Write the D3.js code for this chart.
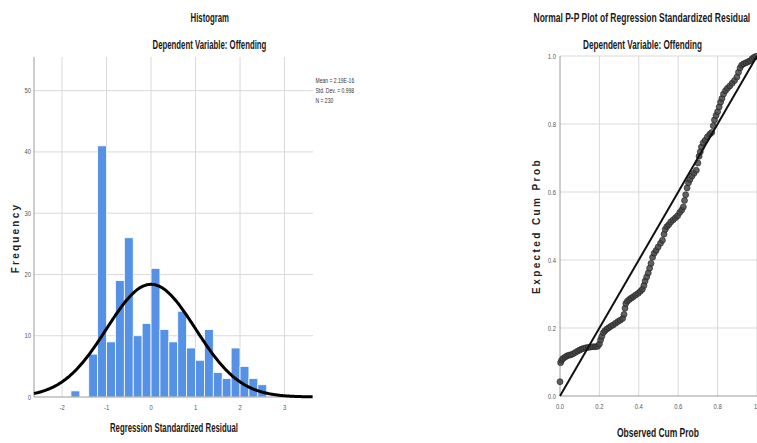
<!DOCTYPE html>
<html>
<head>
<meta charset="utf-8">
<script src="https://cdn.jsdelivr.net/npm/d3@7"></script>
<style>
  html, body { margin: 0; padding: 0; background: #fff; }
  svg { display: block; }
  text { font-family: "Liberation Sans", Arial, "DejaVu Sans", sans-serif; }
</style>
</head>
<body>
<svg id="chart" width="757" height="443"></svg>
<script>
// ---------- Data ----------
// Histogram: bins of width 0.2 (start values) and their counts
const binStarts = [-1.8, -1.6, -1.4, -1.2, -1.0, -0.8, -0.6, -0.4, -0.2, 0.0, 0.2, 0.4, 0.6, 0.8, 1.0, 1.2, 1.4, 1.6, 1.8, 2.0, 2.2, 2.4];
const binCounts = [1, 0, 7, 41, 9, 19, 26, 10, 12, 21, 11, 9, 14, 8, 6, 11, 4, 3, 8, 5, 3, 2];
const binWidth = 0.2;
const histXTicks = [-2, -1, 0, 1, 2, 3];
const histYTicks = [0, 10, 20, 30, 40, 50];
const meanVal = 2.19e-16;
const sdVal = 0.998;
const nVal = 230;
const legendLines = ["Mean = 2.19E-16", "Std. Dev. = 0.998", "N = 230"];

// P-P plot: observed cum prob vs expected cum prob
const ppObserved = [0.000,0.003,0.008,0.015,0.025,0.035,0.045,0.055,0.066,0.078,0.090,0.100,0.110,0.120,0.132,0.144,0.156,0.168,0.180,0.191,0.200,0.206,0.212,0.220,0.228,0.238,0.248,0.258,0.270,0.282,0.294,0.306,0.318,0.325,0.330,0.334,0.342,0.352,0.362,0.372,0.384,0.397,0.408,0.418,0.426,0.432,0.440,0.448,0.455,0.462,0.470,0.478,0.488,0.498,0.510,0.520,0.528,0.534,0.542,0.552,0.562,0.574,0.586,0.597,0.608,0.618,0.626,0.632,0.638,0.645,0.652,0.660,0.670,0.680,0.692,0.700,0.706,0.712,0.718,0.727,0.737,0.748,0.760,0.770,0.778,0.784,0.792,0.800,0.808,0.815,0.822,0.830,0.840,0.850,0.862,0.874,0.886,0.898,0.906,0.914,0.922,0.932,0.944,0.955,0.965,0.975,0.985,0.995];
const ppExpected = [0.042,0.098,0.105,0.110,0.114,0.118,0.120,0.121,0.124,0.128,0.132,0.135,0.138,0.140,0.142,0.143,0.144,0.145,0.145,0.146,0.153,0.165,0.175,0.186,0.192,0.197,0.201,0.205,0.209,0.214,0.219,0.223,0.228,0.240,0.258,0.272,0.279,0.284,0.288,0.292,0.297,0.302,0.308,0.314,0.325,0.338,0.350,0.362,0.376,0.390,0.408,0.420,0.428,0.438,0.449,0.458,0.476,0.490,0.498,0.504,0.512,0.518,0.524,0.530,0.540,0.547,0.556,0.575,0.592,0.612,0.627,0.637,0.647,0.655,0.664,0.685,0.705,0.718,0.732,0.745,0.752,0.762,0.770,0.775,0.795,0.812,0.825,0.836,0.850,0.864,0.875,0.888,0.898,0.905,0.912,0.920,0.928,0.938,0.952,0.965,0.973,0.977,0.980,0.983,0.986,0.992,0.996,0.999];
const ppTicks = [0.0, 0.2, 0.4, 0.6, 0.8, 1.0];

// ---------- Drawing ----------
const svg = d3.select("#chart");
const gridColor = "#d9d9d9";
const axisColor = "#9a9a9a";
const tickTextColor = "#555";
const barColor = "#5592e6";
const NARROW = 0.78;

// narrow text helper (Arial Narrow look-alike via horizontal scaling)
function ntext(g, x, y, str, o = {}) {
  const t = g.append("text")
    .attr("text-anchor", o.anchor || "start")
    .attr("font-size", o.size || 7.5)
    .attr("fill", o.fill || tickTextColor)
    .text(str);
  if (o.weight) t.attr("font-weight", o.weight);
  let sx = o.sx || NARROW;
  if (o.len) {
    const natural = t.node().getComputedTextLength();
    sx = o.len / natural;
  }
  t.attr("transform", `translate(${x},${y}) scale(${sx},1)`);
  return t;
}
const TITLE = { size: 12, fill: "#1a1a1a", weight: "bold" };

// ===== Histogram =====
const hx = d3.scaleLinear().domain([-2.63, 3.64]).range([34, 313]);
const hy = d3.scaleLinear().domain([0, 55.5]).range([397, 57]);
const H = svg.append("g");

H.selectAll("line.vg").data(histXTicks).join("line")
  .attr("x1", d => hx(d)).attr("x2", d => hx(d))
  .attr("y1", hy.range()[1]).attr("y2", hy(0))
  .attr("stroke", gridColor).attr("stroke-width", 1);
H.selectAll("line.hg").data(histYTicks.filter(d => d > 0)).join("line")
  .attr("x1", hx.range()[0]).attr("x2", hx.range()[1])
  .attr("y1", d => hy(d)).attr("y2", d => hy(d))
  .attr("stroke", gridColor).attr("stroke-width", 1);

H.selectAll("rect.bar").data(binStarts.map((s, i) => ({ s, c: binCounts[i] })).filter(d => d.c > 0)).join("rect")
  .attr("x", d => hx(d.s)).attr("width", d => hx(d.s + binWidth) - hx(d.s))
  .attr("y", d => hy(d.c)).attr("height", d => hy(0) - hy(d.c))
  .attr("fill", barColor).attr("stroke", "#ffffff").attr("stroke-width", 0.8);

H.append("line").attr("x1", hx.range()[0]).attr("x2", hx.range()[0]).attr("y1", hy.range()[1]).attr("y2", hy(0)).attr("stroke", axisColor);
H.append("line").attr("x1", hx.range()[0]).attr("x2", hx.range()[1]).attr("y1", hy(0)).attr("y2", hy(0)).attr("stroke", axisColor);

const pdf = x => Math.exp(-0.5 * Math.pow((x - meanVal) / sdVal, 2)) / (sdVal * Math.sqrt(2 * Math.PI));
const curveXs = d3.range(hx.domain()[0], hx.domain()[1] + 0.001, 0.02);
H.append("path")
  .attr("d", d3.line().x(d => hx(d)).y(d => hy(nVal * binWidth * pdf(d))).curve(d3.curveBasis)(curveXs))
  .attr("fill", "none").attr("stroke", "#000").attr("stroke-width", 3);

histYTicks.forEach(d => ntext(H, 31, hy(d) + 2.5, d, { anchor: "end" }));
histXTicks.forEach(d => ntext(H, hx(d), 410, d, { anchor: "middle" }));

legendLines.forEach((d, i) => ntext(H, 315.5, 82.5 + i * 10, d, { size: 7, fill: "#333", sx: 0.72 }));

ntext(H, 190.5, 22, "Histogram", { ...TITLE, len: 38.6 });
ntext(H, 152.5, 49, "Dependent Variable: Offending", { ...TITLE, len: 114 });
ntext(H, 110, 432, "Regression Standardized Residual", { ...TITLE, len: 128 });
H.append("text").attr("transform", "translate(19,238) rotate(-90)")
  .attr("text-anchor", "middle").attr("font-size", 10).attr("font-weight", "bold")
  .attr("letter-spacing", 2.2).attr("fill", "#222").text("Frequency");

// ===== P-P plot =====
const px = d3.scaleLinear().domain([0, 1]).range([560, 757]);
const py = d3.scaleLinear().domain([0, 1]).range([396, 56]);
const P = svg.append("g");

P.selectAll("line.vg").data(ppTicks.filter(d => d > 0)).join("line")
  .attr("x1", d => px(d)).attr("x2", d => px(d)).attr("y1", py(1)).attr("y2", py(0))
  .attr("stroke", gridColor);
P.selectAll("line.hg").data(ppTicks.filter(d => d > 0)).join("line")
  .attr("x1", px(0)).attr("x2", px(1)).attr("y1", d => py(d)).attr("y2", d => py(d))
  .attr("stroke", gridColor);
P.append("line").attr("x1", px(0)).attr("x2", px(0)).attr("y1", py(1)).attr("y2", py(0)).attr("stroke", axisColor);
P.append("line").attr("x1", px(0)).attr("x2", px(1)).attr("y1", py(0)).attr("y2", py(0)).attr("stroke", axisColor);

const ppData = ppObserved.map((o, i) => ({ o, e: ppExpected[i] }));
P.selectAll("circle").data(ppData).join("circle")
  .attr("cx", d => px(d.o)).attr("cy", d => py(d.e)).attr("r", 3)
  .attr("fill", "#454545").attr("fill-opacity", 0.85)
  .attr("stroke", "#1e1e1e").attr("stroke-width", 0.6);

P.append("line").attr("x1", px(0)).attr("y1", py(0)).attr("x2", px(1)).attr("y2", py(1))
  .attr("stroke", "#111").attr("stroke-width", 2);

ppTicks.forEach(d => ntext(P, 556, py(d) + 2.5, d.toFixed(1), { anchor: "end" }));
ppTicks.forEach(d => ntext(P, d === 1 ? px(d) - 3 : px(d), 409, d === 1 ? "1.0" : d.toFixed(1), { anchor: d === 1 ? "start" : "middle" }));

ntext(P, 533.5, 22, "Normal P-P Plot of Regression Standardized Residual", { ...TITLE, len: 217 });
ntext(P, 583, 49, "Dependent Variable: Offending", { ...TITLE, len: 119 });
ntext(P, 617, 437, "Observed Cum Prob", { ...TITLE, len: 82 });
P.append("text").attr("transform", "translate(540,226) rotate(-90)")
  .attr("text-anchor", "middle").attr("font-size", 10).attr("font-weight", "bold")
  .attr("letter-spacing", 2.4).attr("fill", "#222").text("Expected Cum Prob");
</script>
</body>
</html>
